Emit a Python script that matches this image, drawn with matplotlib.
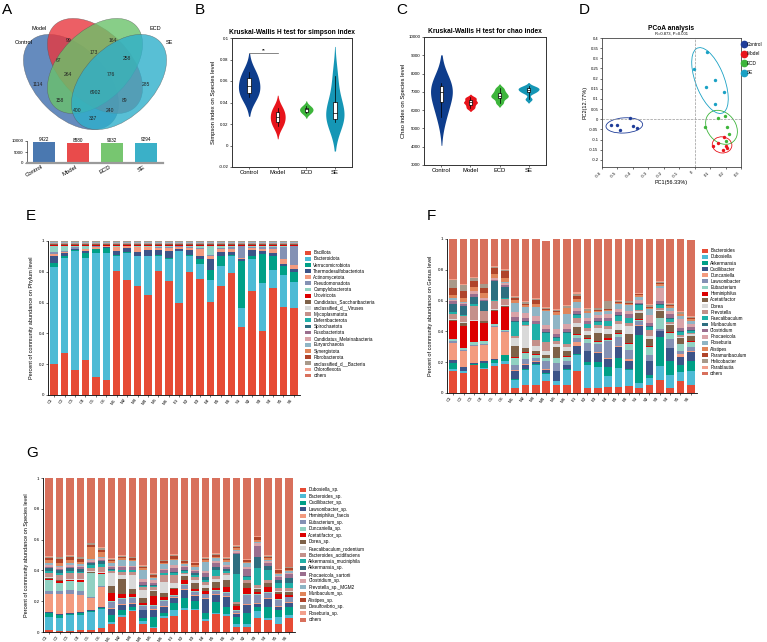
import numpy as np
import pandas as pd
import matplotlib
matplotlib.use("Agg")
import matplotlib.pyplot as plt
from matplotlib.patches import Ellipse, Patch
from matplotlib.lines import Line2D
import seaborn as sns

plt.rcParams['font.family'] = ['Liberation Sans', 'DejaVu Sans']

# ---------------- data ----------------
groups = ["Control", "Model", "ECD", "SE"]
otu_totals = [9422, 8880, 9032, 9294]
venn_counts = ["99", "164", "1114", "285", "67", "173", "258", "264", "776",
               "6902", "158", "89", "400", "240", "337"]

simpson = {
    "Control": [0.045, 0.048, 0.052, 0.058, 0.064, 0.068],
    "Model": [0.018, 0.021, 0.025, 0.028, 0.032, 0.035],
    "ECD": [0.030, 0.031, 0.033, 0.034, 0.035, 0.037],
    "SE": [0.022, 0.024, 0.028, 0.032, 0.043, 0.065],
}
chao = {
    "Control": [5600, 6300, 6900, 7100, 7400, 7500],
    "Model": [6100, 6250, 6400, 6450, 6600, 6700],
    "ECD": [6400, 6650, 6750, 6850, 7000, 7200],
    "SE": [6600, 6950, 7050, 7150, 7200, 7300],
}

pc1 = {
    "Control": [-0.544, -0.505, -0.486, -0.421, -0.401, -0.376],
    "Model": [0.119, 0.153, 0.190, 0.186, 0.205, 0.212],
    "ECD": [0.067, 0.153, 0.194, 0.207, 0.222, 0.200],
    "SE": [-0.004, 0.078, 0.073, 0.130, 0.188, 0.130],
}
pc2 = {
    "Control": [-0.030, -0.030, -0.054, 0.008, -0.033, -0.043],
    "Model": [-0.133, -0.116, -0.087, -0.149, -0.131, -0.141],
    "ECD": [-0.038, 0.005, 0.015, -0.038, -0.074, -0.108],
    "SE": [0.248, 0.331, 0.159, 0.195, 0.136, 0.074],
}

samples = ["C1", "C2", "C3", "C4", "C5", "C6", "M1", "M2", "M3", "M4", "M5", "M6",
           "E1", "E2", "E3", "E4", "E5", "E6", "S1", "S2", "S3", "S4", "S5", "S6"]

phylum_names = ["Bacillota", "Bacteroidota", "Verrucomicrobiota", "Thermodesulfobacteriota",
                "Actinomycetota", "Pseudomonadota", "Campylobacterota", "Uroviricota",
                "Candidatus_Saccharibacteria", "unclassified_d__Viruses", "Mycoplasmatota",
                "Deferribacterota", "Spirochaetota", "Fusobacteriota",
                "Candidatus_Melainabacteria", "Euryarchaeota", "Synergistota",
                "Fibrobacterota", "unclassified_d__Bacteria", "Chloroflexota", "others"]
# seven main phyla per sample
phylum_main = [
    [.20, .63, .025, .045, .013, .013, .044],
    [.27, .62, .01, .02, .01, .005, .035],
    [.16, .775, .005, .005, .005, .01, .01],
    [.225, .665, .035, .01, .01, .005, .02],
    [.12, .805, .02, .005, .01, .005, .005],
    [.10, .825, .03, .005, .005, .003, .002],
    [.805, .10, .002, .028, .025, .003, .007],
    [.75, .175, .002, .028, .01, .002, .003],
    [.71, .19, .002, .028, .03, .003, .007],
    [.65, .25, .002, .038, .02, .003, .007],
    [.805, .10, .002, .033, .015, .005, .01],
    [.74, .145, .002, .048, .02, .005, .01],
    [.60, .335, .002, .013, .01, .005, .005],
    [.80, .105, .002, .033, .015, .007, .008],
    [.755, .095, .03, .02, .05, .005, .015],
    [.605, .145, .06, .07, .025, .005, .06],
    [.71, .125, .065, .03, .02, .005, .015],
    [.79, .115, .002, .023, .02, .01, .01],
    [.44, .125, .305, .01, .01, .075, .005],
    [.675, .205, .025, .035, .015, .007, .008],
    [.415, .31, .19, .02, .015, .01, .01],
    [.695, .115, .095, .02, .02, .017, .008],
    [.57, .21, .055, .015, .03, .08, .01],
    [.565, .17, .065, .02, .025, .12, .005],
]
# thin top layers (Uroviricota ... others)
phylum_minor = [.005, .004, .002, .003, .002, .002, .001, .001, .001, .001, .003, .002, .002, .001]

genus_names = ["Bacteroides", "Dubosiella", "Akkermansia", "Oscillibacter", "Duncaniella",
               "Lawsonibacter", "Eubacterium", "Heminiphilus", "Acetatifactor", "Dorea",
               "Prevotella", "Faecalibaculum", "Muribaculum", "Clostridium", "Phocaeicola",
               "Roseburia", "Alistipes", "Paramuribaculum", "Helicobacter", "Parablautia",
               "others"]
genus_rows = [
    [.14, .015, .04, .02, .11, .01, .015, .115, .01, .005, .035, .01, .055, .015, .01, .01, .02, .05, .05, .005, .26],
    [.13, .01, .005, .025, .10, .01, .015, .14, .02, .005, .04, .005, .06, .01, .01, .005, .03, .04, .04, .005, .295],
    [.18, .005, .005, .005, .11, .005, .02, .135, .005, .005, .09, .01, .05, .02, .015, .005, .025, .04, .02, .005, .245],
    [.155, .01, .03, .015, .10, .01, .02, .115, .01, .005, .06, .005, .06, .01, .01, .005, .03, .035, .02, .005, .29],
    [.175, .02, .02, .005, .21, .005, .01, .09, .005, .005, .05, .01, .12, .01, .01, .005, .025, .035, .01, .005, .175],
    [.19, .02, .035, .005, .145, .005, .01, .15, .005, .005, .04, .01, .07, .01, .015, .005, .025, .05, .005, .005, .195],
    [.03, .055, .005, .055, .005, .03, .05, .005, .07, .055, .01, .09, .005, .03, .03, .06, .02, .015, .005, .005, .37],
    [.05, .10, .005, .03, .005, .03, .04, .005, .03, .14, .005, .02, .01, .02, .03, .04, .01, .01, .01, .005, .405],
    [.05, .135, .005, .01, .005, .02, .025, .005, .02, .03, .04, .10, .005, .02, .03, .06, .02, .025, .005, .005, .385],
    [.075, .05, .005, .02, .005, .05, .02, .005, .02, .02, .06, .06, .005, .02, .025, .09, .01, .005, .01, .005, .43],
    [.05, .025, .005, .06, .005, .05, .03, .005, .07, .02, .02, .02, .005, .02, .03, .09, .02, .005, .01, .005, .455],
    [.055, .095, .005, .025, .005, .02, .03, .005, .03, .03, .02, .07, .005, .02, .035, .06, .04, .005, .01, .005, .43],
    [.14, .11, .005, .05, .025, .025, .02, .005, .05, .025, .03, .02, .005, .02, .02, .04, .02, .02, .01, .015, .345],
    [.03, .15, .02, .07, .005, .05, .025, .005, .02, .03, .02, .02, .005, .02, .02, .03, .01, .005, .01, .005, .45],
    [.03, .14, .03, .06, .005, .05, .015, .005, .055, .03, .02, .02, .005, .02, .02, .02, .01, .005, .01, .005, .445],
    [.04, .07, .06, .05, .005, .11, .01, .01, .03, .03, .02, .03, .005, .02, .02, .02, .01, .005, .05, .005, .40],
    [.04, .12, .07, .07, .005, .06, .02, .005, .02, .04, .02, .03, .005, .02, .02, .03, .01, .005, .01, .005, .395],
    [.045, .105, .005, .055, .01, .06, .04, .005, .055, .055, .02, .03, .005, .02, .02, .04, .01, .005, .01, .005, .40],
    [.035, .03, .31, .06, .005, .03, .005, .005, .04, .01, .01, .03, .005, .01, .02, .02, .01, .005, .005, .005, .35],
    [.055, .04, .025, .085, .005, .04, .05, .005, .045, .02, .04, .02, .005, .02, .05, .04, .01, .005, .01, .005, .425],
    [.085, .09, .19, .035, .005, .01, .07, .005, .04, .01, .01, .02, .005, .02, .09, .01, .01, .01, .005, .005, .275],
    [.03, .085, .09, .085, .005, .055, .04, .005, .045, .01, .01, .02, .005, .03, .02, .02, .01, .005, .01, .005, .415],
    [.08, .055, .05, .05, .02, .02, .04, .005, .035, .01, .01, .02, .005, .02, .06, .02, .01, .005, .01, .01, .465],
    [.05, .095, .065, .055, .005, .03, .03, .005, .035, .01, .01, .015, .005, .02, .02, .02, .01, .005, .01, .005, .495],
]

species_names = ["Dubosiella_sp.", "Bacteroides_sp.", "Oscillibacter_sp.", "Lawsonibacter_sp.",
                 "Heminiphilus_faecis", "Eubacterium_sp.", "Duncaniella_sp.", "Acetatifactor_sp.",
                 "Dorea_sp.", "Faecalibaculum_rodentium", "Bacteroides_acidifaciens",
                 "Akkermansia_muciniphila", "Akkermansia_sp.", "Phocaeicola_sartorii",
                 "Clostridium_sp.", "Prevotella_sp._MGM2", "Muribaculum_sp.", "Alistipes_sp.",
                 "Desulfovibrio_sp.", "Roseburia_sp.", "others"]
species_rows = [
    [.015, .085, .025, .005, .12, .015, .07, .01, .005, .005, .03, .01, .02, .01, .01, .01, .02, .015, .01, .005, .505],
    [.005, .085, .02, .005, .135, .015, .055, .01, .005, .005, .03, .01, .02, .01, .01, .01, .02, .025, .01, .005, .51],
    [.005, .105, .01, .005, .125, .02, .06, .005, .005, .005, .04, .01, .02, .01, .01, .01, .02, .02, .01, .005, .50],
    [.01, .10, .015, .005, .11, .025, .06, .01, .005, .005, .035, .01, .02, .01, .01, .01, .015, .02, .01, .005, .51],
    [.015, .115, .005, .005, .08, .01, .15, .005, .005, .005, .02, .02, .01, .01, .01, .01, .08, .01, .01, .005, .42],
    [.025, .125, .005, .005, .13, .01, .075, .005, .005, .005, .03, .02, .02, .01, .01, .01, .03, .015, .01, .005, .45],
    [.05, .015, .045, .04, .005, .04, .005, .055, .045, .085, .01, .01, .005, .01, .01, .02, .01, .01, .005, .005, .52],
    [.095, .015, .03, .035, .005, .035, .005, .025, .10, .025, .02, .01, .005, .015, .01, .04, .01, .01, .005, .005, .50],
    [.135, .01, .015, .025, .005, .03, .005, .02, .035, .09, .02, .01, .005, .015, .01, .03, .01, .01, .005, .005, .51],
    [.05, .02, .02, .05, .005, .025, .005, .015, .03, .05, .02, .01, .005, .02, .02, .06, .01, .01, .005, .005, .565],
    [.025, .01, .06, .05, .005, .02, .005, .06, .03, .005, .02, .01, .005, .015, .02, .01, .01, .01, .005, .005, .62],
    [.09, .015, .02, .04, .005, .03, .005, .02, .03, .07, .045, .01, .005, .015, .01, .03, .01, .01, .005, .005, .53],
    [.105, .04, .045, .03, .005, .01, .005, .04, .005, .03, .055, .01, .01, .025, .02, .03, .01, .02, .005, .005, .495],
    [.145, .01, .065, .055, .005, .025, .005, .025, .03, .01, .01, .01, .01, .015, .01, .01, .01, .01, .005, .005, .53],
    [.14, .01, .05, .035, .005, .02, .005, .015, .04, .02, .02, .01, .01, .015, .01, .02, .01, .01, .005, .005, .545],
    [.07, .015, .04, .09, .005, .025, .005, .015, .02, .02, .02, .015, .02, .02, .015, .06, .01, .01, .005, .005, .515],
    [.115, .01, .07, .045, .005, .02, .005, .015, .04, .02, .02, .04, .02, .02, .015, .02, .01, .01, .005, .005, .49],
    [.105, .015, .045, .065, .005, .02, .005, .03, .05, .03, .015, .01, .015, .015, .01, .02, .01, .01, .005, .005, .515],
    [.03, .02, .045, .025, .005, .01, .005, .03, .01, .005, .01, .18, .13, .01, .01, .01, .01, .01, .005, .005, .435],
    [.035, .02, .07, .05, .005, .06, .005, .04, .03, .005, .02, .015, .01, .045, .015, .02, .01, .01, .005, .005, .525],
    [.09, .045, .03, .02, .005, .05, .005, .015, .02, .005, .02, .11, .075, .07, .015, .01, .01, .02, .005, .005, .375],
    [.08, .01, .075, .05, .005, .035, .005, .035, .02, .005, .02, .06, .03, .02, .01, .01, .01, .01, .005, .005, .50],
    [.05, .045, .045, .025, .005, .04, .005, .035, .01, .005, .02, .03, .02, .02, .01, .01, .01, .015, .005, .005, .59],
    [.09, .02, .05, .03, .005, .03, .005, .01, .02, .005, .02, .035, .03, .025, .01, .01, .01, .01, .005, .005, .575],
]

# ---------------- styles ----------------
venn_colors = ["#3E6EAE", "#E8373E", "#6BC26A", "#2EAFCB"]
bar_colors = ["#4A78B0", "#E94B4B", "#77C670", "#3AB0C8"]
violin_colors = ["#0E3D8C", "#E8141B", "#3DB53B", "#1596B5"]
pcoa_colors = ["#1F3D99", "#E8141B", "#3DB53B", "#1AA1C4"]
stack_colors = ["#E64B35", "#4DBBD5", "#00A087", "#3C5488", "#F39B7F", "#8491B4",
                "#91D1C2", "#DC0000", "#7E6148", "#D9D9D9", "#C4908A", "#20B0A8",
                "#2E6E80", "#9A6E8E", "#D9A3A8", "#8FB5C5", "#E0855A", "#B0442A",
                "#A8998A", "#F2A08C", "#D8705C"]

W, H = 767, 642
fig = plt.figure(figsize=(W / 100, H / 100), dpi=100)


def box(x, y, w, h):
    return fig.add_axes([x / W, 1 - (y + h) / H, w / W, h / H])


def letter(x, y, s):
    fig.text(x / W, 1 - y / H, s, fontsize=11, va='center', ha='left')


letter(2, 10, "A"); letter(195, 10, "B"); letter(396, 10, "C"); letter(579, 10, "D")
letter(26, 216, "E"); letter(427, 216, "F"); letter(26, 453, "G")

# ---------------- A: venn ----------------
ax = box(15, 10, 160, 122)
ax.set_xlim(15, 175); ax.set_ylim(132, 10); ax.axis('off')
shapes = [(71, 82, 115, 70, 45), (95, 66, 115, 70, 45), (95, 66, 115, 70, -45), (119, 82, 115, 70, -45)]
for (cx, cy, ew, eh, ang), c in zip(shapes, venn_colors):
    ax.add_patch(Ellipse((cx, cy), ew, eh, angle=ang, facecolor=c, alpha=0.8,
                         edgecolor='#555555', lw=0.3))
count_pos = [(69, 41), (113, 41), (38, 85), (146, 85), (58, 60), (94, 53), (127, 59),
             (68, 75), (111, 75), (95, 93), (60, 100), (125, 100), (77, 110), (110, 110), (93, 119)]
for (px, py), s in zip(count_pos, venn_counts):
    ax.text(px, py, s, fontsize=3.6, ha='center', va='center', color='#222222')
label_pos = [(24, 43), (39, 28), (155, 28), (169, 43)]
for (px, py), s in zip(label_pos, groups):
    ax.text(px, py, s, fontsize=4, ha='center', va='center')

ax = box(27, 141, 136, 22)
xb = np.arange(4)
ax.bar(xb, otu_totals, 0.62, color=bar_colors)
for xi, v in zip(xb, otu_totals):
    ax.text(xi, v + 150, str(v), fontsize=3.3, ha='center', va='bottom')
ax.set_xlim(-0.5, 3.5); ax.set_ylim(0, 10000)
ax.set_yticks([0, 5000, 10000])
ax.set_xticks(xb)
ax.set_xticklabels(groups, rotation=30, ha='right', fontsize=4.3)
ax.tick_params(axis='y', labelsize=3.2, length=1.5, width=0.4, pad=1)
ax.tick_params(axis='x', length=0, pad=1)
for s in ['top', 'right']:
    ax.spines[s].set_visible(False)
ax.spines['left'].set_linewidth(0.4)
ax.spines['bottom'].set_color('#9a9a9a'); ax.spines['bottom'].set_linewidth(1.6)


# ---------------- B, C: violins ----------------
def violin_panel(ax, data, bw, widths, title, ylabel, ylim, yticks, yticklabels):
    for i, g in enumerate(groups):
        df = pd.DataFrame({'g': [g] * len(data[g]), 'v': data[g]})
        sns.violinplot(data=df, x='g', y='v', order=groups, color=violin_colors[i],
                       inner=None, linewidth=0, cut=2, bw_adjust=bw[i],
                       density_norm='width', width=widths[i], saturation=1, ax=ax)
    ax.boxplot([data[g] for g in groups], positions=range(4), widths=0.12,
               patch_artist=True, showfliers=False, whis=(0, 100), manage_ticks=False,
               boxprops=dict(facecolor='white', edgecolor='black', lw=0.5),
               medianprops=dict(color='black', lw=0.5),
               whiskerprops=dict(color='black', lw=0.5), capprops=dict(lw=0))
    ax.set_xlim(-0.6, 3.6); ax.set_ylim(*ylim)
    ax.set_yticks(yticks); ax.set_yticklabels(yticklabels)
    ax.set_xticks(range(4)); ax.set_xticklabels(groups)
    ax.tick_params(axis='y', labelsize=3.2, length=1.5, width=0.4, pad=1)
    ax.tick_params(axis='x', labelsize=4.2, length=1.5, width=0.4, pad=1)
    ax.set_xlabel('')
    ax.set_ylabel(ylabel, fontsize=4.2, labelpad=2)
    ax.set_title(title, fontsize=4.8, fontweight='bold', pad=3)
    for s in ax.spines.values():
        s.set_linewidth(0.7); s.set_color('#333333')


ax = box(232, 38, 120, 129)
violin_panel(ax, simpson, [1.4, 1.3, 1.3, 1.2], [0.75, 0.52, 0.47, 0.64],
             "Kruskal-Wallis H test for simpson index",
             "Simpson index on Species level", (-0.02, 0.1),
             [-0.02, 0, 0.02, 0.04, 0.06, 0.08, 0.1],
             ["-0.02", "0", "0.02", "0.04", "0.06", "0.08", "0.1"])
ax.plot([0, 1], [0.086, 0.086], color='#555555', lw=0.5)
ax.text(0.5, 0.0862, "**", fontsize=3.5, ha='center', va='bottom')

ax = box(424, 37, 122, 128)
violin_panel(ax, chao, [1.5, 0.55, 0.6, 0.6], [0.75, 0.48, 0.6, 0.72],
             "Kruskal-Wallis H test for chao index",
             "Chao index on Species level", (3000, 10000),
             list(range(3000, 10001, 1000)), [str(v) for v in range(3000, 10001, 1000)])

# ---------------- D: PCoA ----------------
ax = box(602, 38, 139, 129)
for i, g in enumerate(groups):
    xs, ys = np.array(pc1[g]), np.array(pc2[g])
    ax.scatter(xs, ys, s=6, color=pcoa_colors[i], zorder=3, linewidths=0)
    cov = np.cov(xs, ys)
    vals, vecs = np.linalg.eigh(cov)
    order = vals.argsort()[::-1]
    vals, vecs = vals[order], vecs[:, order]
    ang = np.degrees(np.arctan2(vecs[1, 0], vecs[0, 0]))
    ax.add_patch(Ellipse((xs.mean(), ys.mean()), 2 * 1.8 * np.sqrt(vals[0]),
                         2 * 1.8 * np.sqrt(vals[1]), angle=ang, fill=False,
                         edgecolor=pcoa_colors[i], lw=0.6))
ax.axvline(0, color='#999999', ls='--', lw=0.5)
ax.axhline(0, color='#999999', ls='--', lw=0.5)
ax.set_xlim(-0.6, 0.3); ax.set_ylim(-0.235, 0.4)
xt = [-0.6, -0.5, -0.4, -0.3, -0.2, -0.1, 0, 0.1, 0.2, 0.3]
ax.set_xticks(xt); ax.set_xticklabels(["-0.6", "-0.5", "-0.4", "-0.3", "-0.2", "-0.1", "0", "0.1", "0.2", "0.3"],
                                      rotation=45, ha='right')
yt = [-0.2, -0.15, -0.1, -0.05, 0, 0.05, 0.1, 0.15, 0.2, 0.25, 0.3, 0.35, 0.4]
ax.set_yticks(yt); ax.set_yticklabels(["-0.2", "-0.15", "-0.1", "-0.05", "0", "0.05", "0.1",
                                       "0.15", "0.2", "0.25", "0.3", "0.35", "0.4"])
ax.tick_params(labelsize=3, length=1.5, width=0.4, pad=1)
ax.set_xlabel("PC1(56.33%)", fontsize=4, labelpad=1)
ax.set_ylabel("PC2(12.77%)", fontsize=4, labelpad=1)
ax.set_title("PCoA analysis", fontsize=4.8, fontweight='bold', pad=6)
ax.text(0.5, 1.02, "R=0.873, P=0.001", transform=ax.transAxes, fontsize=3, ha='center', va='bottom')
for s in ax.spines.values():
    s.set_linewidth(0.6); s.set_color('#444444')
handles = [Line2D([], [], marker='o', ls='', color=c, markersize=4.5) for c in pcoa_colors]
ax.legend(handles, groups, loc='upper left', bbox_to_anchor=(1.005, 0.97), fontsize=3.4,
          frameon=False, handletextpad=0.1, labelspacing=0.95, borderaxespad=0, borderpad=0,
          handlelength=1.0)


# ---------------- E, F, G: stacked bars ----------------
def stack_panel(ax, rows, names, ylabel, leg_top, spacing):
    vals = np.array(rows).T
    x = np.arange(len(samples))
    bottom = np.zeros(len(samples))
    for v, c in zip(vals, stack_colors):
        ax.bar(x, v, 0.72, bottom=bottom, color=c, linewidth=0)
        bottom += v
    ax.set_xlim(-0.6, len(samples) - 0.4); ax.set_ylim(0, 1)
    ax.set_yticks([0, 0.2, 0.4, 0.6, 0.8, 1])
    ax.set_yticklabels(["0", "0.2", "0.4", "0.6", "0.8", "1"])
    ax.set_xticks(x); ax.set_xticklabels(samples, rotation=55, ha='right')
    ax.tick_params(axis='y', labelsize=3.2, length=1.5, width=0.4, pad=1)
    ax.tick_params(axis='x', labelsize=3.2, length=1.5, width=0.4, pad=0.5)
    ax.set_ylabel(ylabel, fontsize=4, labelpad=3)
    for s in ['top', 'right']:
        ax.spines[s].set_visible(False)
    for s in ['left', 'bottom']:
        ax.spines[s].set_linewidth(0.6)
    hs = [Patch(facecolor=c, edgecolor='none') for c in stack_colors]
    ax.legend(hs, names, loc='upper left', bbox_to_anchor=(1.02, leg_top), fontsize=3.3,
              frameon=False, handlelength=1.2, handleheight=0.9, labelspacing=spacing,
              handletextpad=0.6, borderaxespad=0, borderpad=0)


phylum_rows = [m + phylum_minor for m in phylum_main]

ax = box(48, 241, 252, 154)
stack_panel(ax, phylum_rows, phylum_names, "Percent of community abundance on Phylum level", 0.94, 0.25)
ax = box(447, 239, 250, 154)
stack_panel(ax, genus_rows, genus_names, "Percent of community abundance on Genus level", 0.94, 0.25)
ax = box(43, 478, 252, 154)
stack_panel(ax, species_rows, species_names, "Percent of community abundance on Species level", 0.94, 0.33)

fig.savefig("out.png", dpi=100)
